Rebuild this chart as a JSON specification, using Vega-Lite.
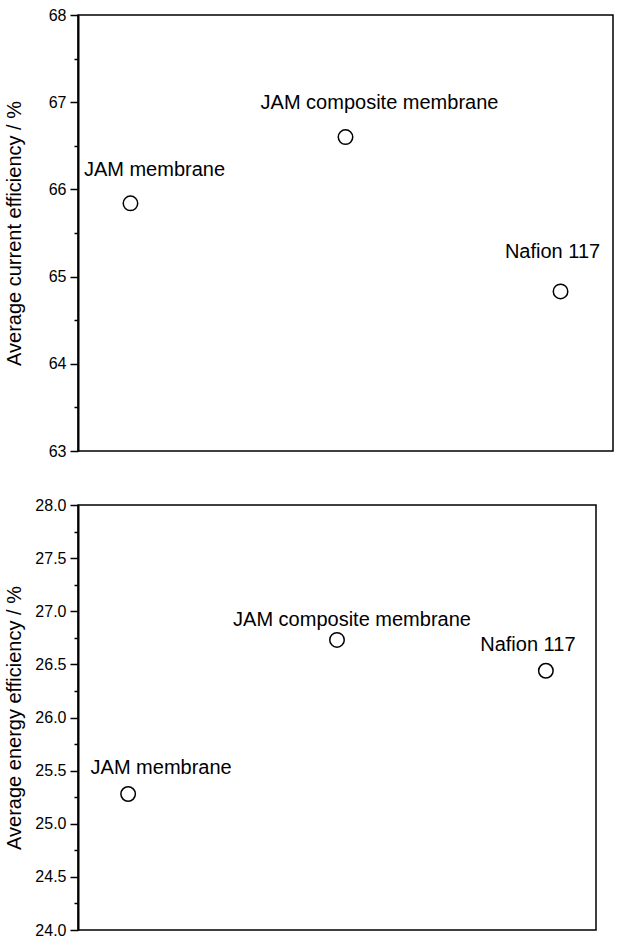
{
  "$schema": "https://vega.github.io/schema/vega-lite/v6.json",
  "background": "white",
  "padding": {"left": 3, "top": 6, "right": 0, "bottom": 0},
  "spacing": 54,
  "bounds": "flush",
  "config": {
    "font": "Liberation Sans",
    "view": {"stroke": "black", "strokeWidth": 1.5},
    "axis": {
      "grid": false,
      "domainColor": "black",
      "domainWidth": 2,
      "tickColor": "black",
      "tickWidth": 1.5,
      "labelColor": "black",
      "labelFontSize": 16,
      "labelPadding": 4,
      "labelFlush": false,
      "labelOverlap": false,
      "titleColor": "black",
      "titleFontSize": 20,
      "titleFontWeight": "normal",
      "titleX": -54
    },
    "text": {"font": "Liberation Sans", "fontSize": 20, "color": "black", "baseline": "alphabetic", "align": "center"}
  },
  "data": {
    "values": [
      {"membrane": "JAM membrane", "current": 65.84, "energy": 25.28},
      {"membrane": "JAM composite membrane", "current": 66.6, "energy": 26.73},
      {"membrane": "Nafion 117", "current": 64.83, "energy": 26.44}
    ]
  },
  "vconcat": [
    {
      "width": 535,
      "height": 436,
      "encoding": {
        "x": {"field": "membrane", "type": "nominal", "sort": null, "scale": {"type": "point", "padding": 0.244}, "axis": null},
        "y": {
          "field": "current", "type": "quantitative",
          "scale": {"domain": [63, 68], "nice": false, "zero": false},
          "axis": {
            "title": "Average current efficiency / %",
            "values": [63, 63.5, 64, 64.5, 65, 65.5, 66, 66.5, 67, 67.5, 68],
            "format": ".0f",
            "labelExpr": "datum.value % 1 === 0 ? datum.label : ''",
            "tickSize": {"condition": {"test": "datum.value % 1 === 0", "value": 8}, "value": 4}
          }
        }
      },
      "layer": [
        {"mark": {"type": "point", "shape": "circle", "filled": false, "stroke": "black", "strokeWidth": 1.5, "size": 210, "opacity": 1}},
        {"transform": [{"filter": "datum.membrane === 'JAM membrane'"}], "mark": {"type": "text", "dx": 24, "dy": -27}, "encoding": {"text": {"field": "membrane"}}},
        {"transform": [{"filter": "datum.membrane === 'JAM composite membrane'"}], "mark": {"type": "text", "dx": 34, "dy": -28}, "encoding": {"text": {"field": "membrane"}}},
        {"transform": [{"filter": "datum.membrane === 'Nafion 117'"}], "mark": {"type": "text", "dx": -8, "dy": -33}, "encoding": {"text": {"field": "membrane"}}}
      ]
    },
    {
      "width": 518,
      "height": 425,
      "encoding": {
        "x": {"field": "membrane", "type": "nominal", "sort": null, "scale": {"type": "point", "padding": 0.24}, "axis": null},
        "y": {
          "field": "energy", "type": "quantitative",
          "scale": {"domain": [24, 28], "nice": false, "zero": false},
          "axis": {
            "title": "Average energy efficiency / %",
            "values": [24, 24.25, 24.5, 24.75, 25, 25.25, 25.5, 25.75, 26, 26.25, 26.5, 26.75, 27, 27.25, 27.5, 27.75, 28],
            "format": ".1f",
            "labelExpr": "(datum.value * 2) % 1 === 0 ? datum.label : ''",
            "tickSize": {"condition": {"test": "(datum.value * 2) % 1 === 0", "value": 8}, "value": 4}
          }
        }
      },
      "layer": [
        {"mark": {"type": "point", "shape": "circle", "filled": false, "stroke": "black", "strokeWidth": 1.5, "size": 210, "opacity": 1}},
        {"transform": [{"filter": "datum.membrane === 'JAM membrane'"}], "mark": {"type": "text", "dx": 33, "dy": -20}, "encoding": {"text": {"field": "membrane"}}},
        {"transform": [{"filter": "datum.membrane === 'JAM composite membrane'"}], "mark": {"type": "text", "dx": 15, "dy": -14}, "encoding": {"text": {"field": "membrane"}}},
        {"transform": [{"filter": "datum.membrane === 'Nafion 117'"}], "mark": {"type": "text", "dx": -18, "dy": -20}, "encoding": {"text": {"field": "membrane"}}}
      ]
    }
  ]
}
